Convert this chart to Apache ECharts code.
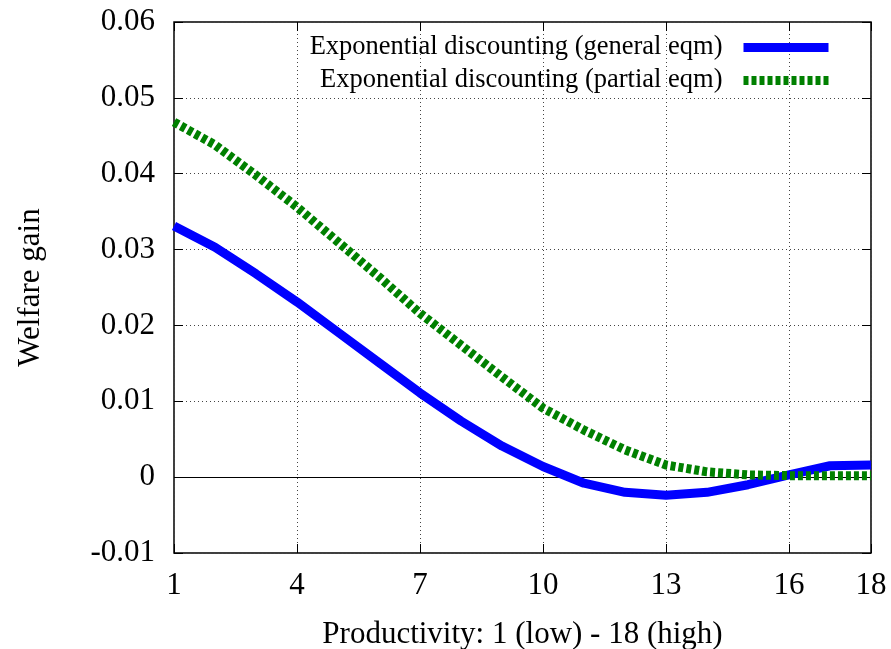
<!DOCTYPE html>
<html>
<head>
<meta charset="utf-8">
<script src="https://cdn.jsdelivr.net/npm/echarts@6/dist/echarts.min.js"></script>
<style>
html,body{margin:0;padding:0;background:#fff;}
#chart{width:891px;height:649px;}
</style>
</head>
<body>
<div id="chart"></div>
<script>
var productivity = [1,2,3,4,5,6,7,8,9,10,11,12,13,14,15,16,17,18];
var generalEqm = [0.0331,0.0303,0.0268,0.0231,0.0191,0.0151,0.0111,0.0074,0.0041,0.0014,-0.0008,-0.0020,-0.0024,-0.0020,-0.0010,0.0003,0.0015,0.0016];
var partialEqm = [0.0468,0.0438,0.0398,0.0356,0.0310,0.0264,0.0216,0.0174,0.0132,0.0091,0.0062,0.0036,0.0016,0.0007,0.0003,0.0002,0.0002,0.0002];
var xTicks = [1,4,7,10,13,16,18];
var seriesNames = ['Exponential discounting (general eqm)','Exponential discounting (partial eqm)'];

function pairs(xs, ys){ return xs.map(function(x,i){ return [x, ys[i]]; }); }

var font = 'Liberation Serif, Times New Roman, serif';
var chart = echarts.init(document.getElementById('chart'));
var gridLine = {show:true, lineStyle:{color:'#444', width:1, type:[1,3]}};
chart.setOption({
  animation:false,
  backgroundColor:'#fff',
  textStyle:{fontFamily:font},
  grid:{left:174, right:20, top:22, bottom:96, containLabel:false, outerBoundsMode:'none',
    show:true, borderColor:'#000', borderWidth:1.5, backgroundColor:'transparent'},
  legend:{
    show:true, orient:'vertical', right:53, top:29, align:'right',
    itemWidth:85, itemHeight:10, itemGap:6,
    itemStyle:{opacity:0, borderWidth:0},
    lineStyle:{width:'inherit'},
    textStyle:{fontFamily:font, fontSize:26.5, color:'#000', padding:[0,16,0,0]},
    data:seriesNames
  },
  xAxis:[{
    type:'value', min:1, max:18,
    name:'Productivity: 1 (low) - 18 (high)', nameLocation:'middle', nameGap:66,
    nameTextStyle:{fontFamily:font, fontSize:31, color:'#000'},
    axisLine:{show:false, onZero:false},
    axisTick:{show:true, inside:true, length:9, customValues:xTicks, lineStyle:{color:'#000'}},
    axisLabel:{customValues:xTicks, fontFamily:font, fontSize:31, color:'#000', margin:17},
    splitLine:gridLine
  },{
    type:'value', min:1, max:18, position:'top',
    axisLine:{show:false, onZero:false},
    axisTick:{show:true, inside:true, length:9, customValues:xTicks, lineStyle:{color:'#000'}},
    axisLabel:{show:false, customValues:xTicks},
    splitLine:{show:false}
  }],
  yAxis:[{
    type:'value', min:-0.01, max:0.06, interval:0.01,
    name:'Welfare gain', nameLocation:'middle', nameGap:128,
    nameTextStyle:{fontFamily:font, fontSize:31, color:'#000'},
    axisLine:{show:false, onZero:false},
    axisTick:{show:true, inside:true, length:9, lineStyle:{color:'#000'}},
    axisLabel:{fontFamily:font, fontSize:31, color:'#000', margin:19},
    splitLine:gridLine
  },{
    type:'value', min:-0.01, max:0.06, interval:0.01, position:'right',
    axisLine:{show:false, onZero:false},
    axisTick:{show:true, inside:true, length:9, lineStyle:{color:'#000'}},
    axisLabel:{show:false},
    splitLine:{show:false}
  }],
  series:[{
    name:seriesNames[0], type:'line', data:pairs(productivity, generalEqm),
    symbol:'none', smooth:false, z:3,
    lineStyle:{color:'#0000ff', width:9, cap:'butt', join:'round'},
    itemStyle:{color:'#0000ff'},
    markLine:{silent:true, symbol:'none', label:{show:false}, z:1,
      lineStyle:{color:'#000', width:1.2, type:'solid'}, data:[{yAxis:0}]}
  },{
    name:seriesNames[1], type:'line', data:pairs(productivity, partialEqm),
    symbol:'none', smooth:false, z:4,
    lineStyle:{color:'#008000', width:9, type:[5,3], cap:'butt'},
    itemStyle:{color:'#008000'}
  }]
});
</script>
</body>
</html>
